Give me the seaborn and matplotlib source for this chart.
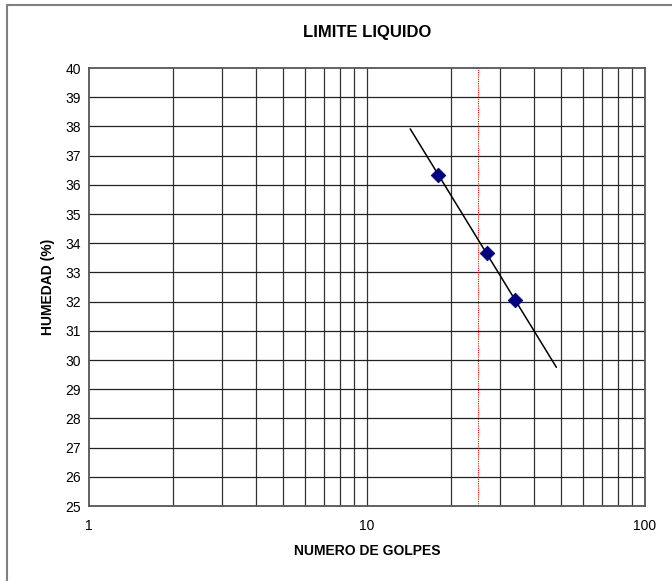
import numpy as np
import pandas as pd
import seaborn as sns
import matplotlib.pyplot as plt
from matplotlib.lines import Line2D

# === Données ===
golpes = [18, 27, 34]
humedad = [36.35, 33.67, 32.05]
trend_x = [14.3, 48.0]   # étendue de la droite de tendance
golpes_ref = 25          # ligne verticale à 25 coups

df = pd.DataFrame({"golpes": golpes, "humedad": humedad})

# droite de tendance : humedad ~ log10(golpes)
pente, ordonnee = np.polyfit(np.log10(df["golpes"]), df["humedad"], 1)
df_trend = pd.DataFrame({"golpes": trend_x})
df_trend["humedad"] = pente * np.log10(df_trend["golpes"]) + ordonnee

sns.set_style("white")
plt.rcParams["font.family"] = ["Liberation Sans", "DejaVu Sans"]
plt.rcParams.update({"text.color": "black", "axes.labelcolor": "black",
                     "xtick.color": "black", "ytick.color": "black"})

fig = plt.figure(figsize=(6.72, 5.81), dpi=100)
ax = fig.add_axes([89 / 672, 1 - 506 / 581, (645 - 89) / 672, (506 - 68) / 581])

ax.set_xscale("log")
ax.set_xlim(1, 100)
ax.set_ylim(25, 40)

# grille
for x in list(range(2, 10)) + list(range(10, 100, 10)):
    ax.axvline(x, color="#333333", lw=0.9, zorder=0)
for y in range(26, 40):
    ax.axhline(y, color="#222222", lw=0.9, zorder=0)
ax.axvline(golpes_ref, color="red", lw=0.8, ls=(0, (1, 1)), zorder=1)

sns.lineplot(data=df_trend, x="golpes", y="humedad", color="black", lw=1.1, ax=ax, zorder=2)
sns.scatterplot(data=df, x="golpes", y="humedad", marker="D", s=55, color="#000080",
                edgecolor="#000080", ax=ax, zorder=3)

ax.set_xticks([1, 10, 100])
ax.set_xticklabels(["1", "10", "100"])
ax.xaxis.set_minor_locator(plt.NullLocator())
ax.set_yticks(range(25, 41))
ax.tick_params(axis="both", length=0, labelsize=10, pad=6)
ax.tick_params(axis="x", pad=9)

for s in ax.spines.values():
    s.set_color("#555555")
    s.set_linewidth(1.3)

ax.set_xlabel("NUMERO DE GOLPES", fontsize=10, fontweight="bold", labelpad=8)
ax.set_ylabel("HUMEDAD (%)", fontsize=10, fontweight="bold", labelpad=7)
fig.text(367 / 672, 1 - 33 / 581, "LIMITE LIQUIDO", ha="center", va="center",
         fontsize=12, fontweight="bold")

# cadre extérieur (haut et gauche)
fig.add_artist(Line2D([7 / 672, 7 / 672], [0, 1 - 5 / 581], color="#808080", lw=1.5))
fig.add_artist(Line2D([7 / 672, 1], [1 - 5 / 581, 1 - 5 / 581], color="#808080", lw=1.5))

fig.savefig("out.png", dpi=100)
